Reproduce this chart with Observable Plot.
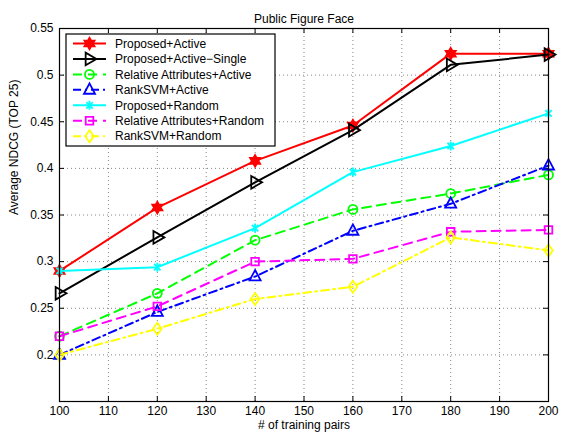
<!DOCTYPE html>
<html>
<head>
<meta charset="utf-8">
<script src="https://cdn.jsdelivr.net/npm/d3@7"></script>
<script src="https://cdn.jsdelivr.net/npm/@observablehq/plot@0.6"></script>
<style>
  html, body { margin: 0; padding: 0; background: #fff; }
  svg { font-family: "Liberation Sans", Arial, Helvetica, sans-serif; }
</style>
</head>
<body>
<div id="chart"></div>
<script>
// ---- data ----
const trainingPairs = [100, 120, 140, 160, 180, 200];
const proposedActive       = [0.290, 0.358, 0.408, 0.446, 0.523, 0.523];
const proposedActiveSingle = [0.266, 0.326, 0.385, 0.441, 0.511, 0.522];
const relAttrActive        = [0.220, 0.266, 0.323, 0.356, 0.373, 0.393];
const rankSVMActive        = [0.200, 0.246, 0.284, 0.333, 0.362, 0.403];
const proposedRandom       = [0.290, 0.294, 0.336, 0.396, 0.424, 0.459];
const relAttrRandom        = [0.220, 0.252, 0.300, 0.303, 0.332, 0.334];
const rankSVMRandom        = [0.200, 0.228, 0.260, 0.273, 0.326, 0.312];
const seriesNames = ["Proposed+Active", "Proposed+Active\u2212Single", "Relative Attributes+Active",
  "RankSVM+Active", "Proposed+Random", "Relative Attributes+Random", "RankSVM+Random"];
const xTicks = [100, 110, 120, 130, 140, 150, 160, 170, 180, 190, 200];
const yTicks = [0.2, 0.25, 0.3, 0.35, 0.4, 0.45, 0.5, 0.55];
const yTickLabels = ["0.2", "0.25", "0.3", "0.35", "0.4", "0.45", "0.5", "0.55"];
const titleText = "Public Figure Face";
const xLabel = "# of training pairs";
const yLabel = "Average NDCG (TOP 25)";

// ---- symbols ----
function poly(pts) {
  return { draw(ctx, size) {
    const r = Math.sqrt(size / Math.PI);
    pts.forEach(([a, b], i) => i ? ctx.lineTo(a * r, b * r) : ctx.moveTo(a * r, b * r));
    ctx.closePath();
  }};
}
const hexPts = [];
for (let i = 0; i < 12; i++) {
  const ang = -Math.PI / 2 + i * Math.PI / 6;
  const rr = i % 2 === 0 ? 1 : 1 / Math.sqrt(3);
  hexPts.push([rr * Math.cos(ang), rr * Math.sin(ang)]);
}
const symHexagram = poly(hexPts);
const symTriRight = poly([[1, 0], [-0.55, -0.9], [-0.55, 0.9]]);
const symTriUp = poly([[0, -1], [0.85, 0.6], [-0.85, 0.6]]);
const symSquare = poly([[-1, -1], [1, -1], [1, 1], [-1, 1]]);
const symDiamond = poly([[0, -1], [0.72, 0], [0, 1], [-0.72, 0]]);
const symCircle = { draw(ctx, size) { const r = Math.sqrt(size / Math.PI); ctx.moveTo(r, 0); ctx.arc(0, 0, r, 0, 2 * Math.PI); } };
const symAsterisk = { draw(ctx, size) {
  const r = Math.sqrt(size / Math.PI), d = r * 0.72;
  ctx.moveTo(-d, -d); ctx.lineTo(d, d); ctx.moveTo(-d, d); ctx.lineTo(d, -d);
  ctx.moveTo(0, -r); ctx.lineTo(0, r);
}};

// ---- styles ----
const styles = [
  {color: "#ff0000", dash: null,      symbol: symHexagram, r: 5.8, fill: "#ff0000"},
  {color: "#000000", dash: null,      symbol: symTriRight, r: 7,   fill: "none"},
  {color: "#00ff00", dash: "9,6",     symbol: symCircle,   r: 4.5, fill: "none"},
  {color: "#0000ff", dash: "8,4,2,4", symbol: symTriUp,    r: 6.5, fill: "none"},
  {color: "#00ffff", dash: null,      symbol: symAsterisk, r: 4.5, fill: "none"},
  {color: "#ff00ff", dash: "9,6",     symbol: symSquare,   r: 3.8, fill: "none"},
  {color: "#ffff00", dash: "8,4,2,4", symbol: symDiamond,  r: 6,   fill: "none"}
];
const seriesValues = [proposedActive, proposedActiveSingle, relAttrActive, rankSVMActive,
  proposedRandom, relAttrRandom, rankSVMRandom];
const series = seriesNames.map((name, i) => ({
  name, ...styles[i],
  rows: trainingPairs.map((x, j) => ({x, y: seriesValues[i][j]}))
}));

const W = 564, H = 434, mL = 59, mR = 16, mT = 28, mB = 33;
const plotH = H - mT - mB, plotW = W - mL - mR;

const marks = [
  Plot.gridX(xTicks, {stroke: "#000", strokeOpacity: 0.6, strokeWidth: 0.8, strokeDasharray: "1,3"}),
  Plot.gridY(yTicks, {stroke: "#000", strokeOpacity: 0.6, strokeWidth: 0.8, strokeDasharray: "1,3"}),
  Plot.tickX(xTicks, {x: d => d, insetTop: plotH - 5, stroke: "#000"}),
  Plot.tickX(xTicks, {x: d => d, insetBottom: plotH - 5, stroke: "#000"}),
  Plot.tickY(yTicks, {y: d => d, insetRight: plotW - 5, stroke: "#000"}),
  Plot.tickY(yTicks, {y: d => d, insetLeft: plotW - 5, stroke: "#000"}),
  Plot.axisX(xTicks, {tickSize: 0, tickPadding: 5, fontSize: 12, label: null, fill: "#000"}),
  Plot.axisY(yTicks, {tickSize: 0, tickPadding: 6, fontSize: 12, label: null, fill: "#000",
    tickFormat: d => yTickLabels[yTicks.indexOf(d)]}),
  Plot.text([titleText], {frameAnchor: "top", dy: -14, fontSize: 12, fill: "#000"}),
  Plot.text([xLabel], {frameAnchor: "bottom", dy: 27.5, fontSize: 12, fill: "#000"}),
  Plot.text([yLabel], {frameAnchor: "left", dx: -45, rotate: -90, fontSize: 12, fill: "#000"})
];
for (const s of series) {
  marks.push(Plot.line(s.rows, {x: "x", y: "y", stroke: s.color, strokeWidth: 2,
    strokeDasharray: s.dash ?? undefined}));
  marks.push(Plot.dot(s.rows, {x: "x", y: "y", symbol: s.symbol, r: s.r, stroke: s.color,
    fill: s.fill, strokeWidth: 1.8}));
}
marks.push(Plot.frame({stroke: "#000", strokeWidth: 1.2}));

const svg = Plot.plot({
  width: W, height: H,
  marginLeft: mL, marginRight: mR, marginTop: mT, marginBottom: mB,
  style: {fontFamily: "'Liberation Sans', Arial, Helvetica, sans-serif", fontSize: "12px", background: "#fff"},
  x: {domain: [100, 200]},
  y: {domain: [0.15, 0.55]},
  marks
});

// ---- legend (MATLAB-style box) ----
const lg = d3.select(svg).append("g").attr("class", "legend");
const bx = 66, by = 34, bw = 209, rowH = 15.45, bh = 112;
lg.append("rect").attr("x", bx).attr("y", by).attr("width", bw).attr("height", bh)
  .attr("fill", "#fff").attr("stroke", "#000").attr("stroke-width", 1.2);
series.forEach((s, i) => {
  const cy = by + 9.5 + i * rowH;
  lg.append("line").attr("x1", 73).attr("x2", 106).attr("y1", cy).attr("y2", cy)
    .attr("stroke", s.color).attr("stroke-width", 2)
    .attr("stroke-dasharray", s.dash);
  const path = d3.path();
  s.symbol.draw(path, s.r * s.r * Math.PI);
  lg.append("path").attr("d", path.toString()).attr("transform", `translate(89.5,${cy})`)
    .attr("stroke", s.color).attr("fill", s.fill).attr("stroke-width", 1.8);
  lg.append("text").attr("x", 115).attr("y", cy).attr("dy", "0.35em")
    .attr("text-anchor", "start")
    .attr("font-size", 12).attr("fill", "#000").text(s.name);
});

document.getElementById("chart").appendChild(svg);
</script>
</body>
</html>
